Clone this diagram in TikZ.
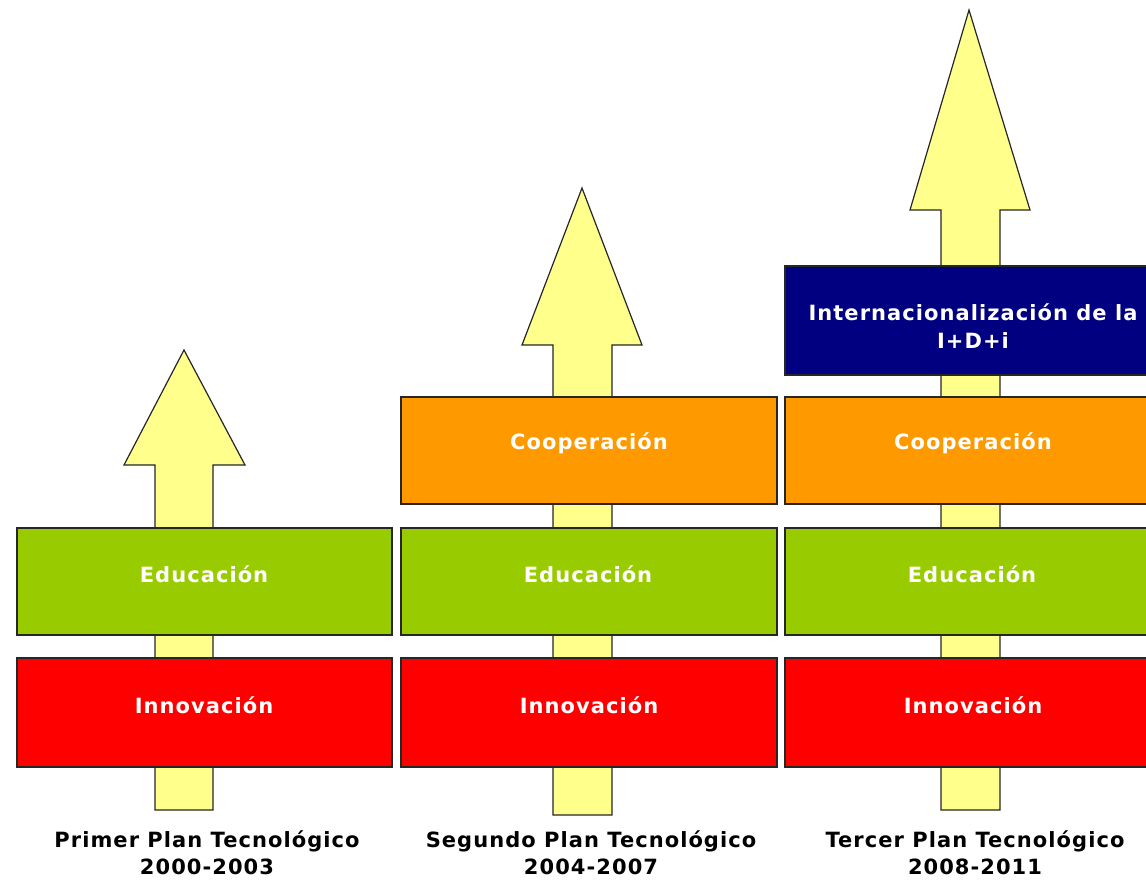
\documentclass[tikz,border=0pt]{standalone}
\usepackage{fontspec}
\setmainfont{DejaVu Sans}
\newfontfamily\spacedfont[LetterSpace=5]{DejaVu Sans}
\definecolor{arrowfill}{RGB}{255,255,140}
\definecolor{innov}{RGB}{255,0,0}
\definecolor{educ}{RGB}{153,204,0}
\definecolor{coop}{RGB}{255,153,0}
\definecolor{intl}{RGB}{0,0,128}
\tikzset{
  arrowshape/.style={draw=black!85, line width=1.2pt, fill=arrowfill, line join=miter},
  boxstyle/.style={draw=black!85, line width=1.5pt, minimum width=375pt, minimum height=107pt, inner sep=0pt},
  boxtext/.style={text=white, font=\spacedfont\fontsize{21}{28}\selectfont\bfseries, align=center, inner sep=0pt},
  plantext/.style={text=black, font=\spacedfont\fontsize{21}{27}\selectfont\bfseries, align=center, inner sep=0pt},
}
\begin{document}
\begin{tikzpicture}[x=1pt,y=-1pt]
\useasboundingbox (0,0) rectangle (1146,879);
\clip (0,0) rectangle (1146,879);
% arrows
\draw[arrowshape] (155,810) -- (155,465) -- (124,465) -- (184,350) -- (245,465) -- (213,465) -- (213,810) -- cycle;
\draw[arrowshape] (553,815) -- (553,345) -- (522,345) -- (582,188) -- (642,345) -- (612,345) -- (612,815) -- cycle;
\draw[arrowshape] (941,810) -- (941,210) -- (910,210) -- (969,10) -- (1030,210) -- (1000,210) -- (1000,810) -- cycle;
% column 1
\node[boxstyle, fill=innov, minimum height=109pt] (inn1) at (204.5,712.5) {};
\node[boxstyle, fill=educ] (edu1) at (204.5,581.5) {};
% column 2
\node[boxstyle, fill=innov, minimum height=109pt, minimum width=376pt] (inn2) at (589,712.5) {};
\node[boxstyle, fill=educ, minimum width=376pt] (edu2) at (589,581.5) {};
\node[boxstyle, fill=coop, minimum width=376pt] (coo2) at (589,450.5) {};
% column 3
\node[boxstyle, fill=innov, minimum height=109pt, minimum width=376pt] (inn3) at (973,712.5) {};
\node[boxstyle, fill=educ, minimum width=376pt] (edu3) at (973,581.5) {};
\node[boxstyle, fill=coop, minimum width=376pt] (coo3) at (973,450.5) {};
\node[boxstyle, fill=intl, minimum height=109pt, minimum width=376pt] (int3) at (973,320.5) {};
% box texts
\node[boxtext] (tinn1) at (204,705) {Innovación};
\node[boxtext] (tedu1) at (204,574) {Educación};
\node[boxtext] (tinn2) at (589,705) {Innovación};
\node[boxtext] (tedu2) at (588,574) {Educación};
\node[boxtext] (tcoo2) at (589,443) {Cooperación};
\node[boxtext] (tinn3) at (973,705) {Innovación};
\node[boxtext] (tedu3) at (972,574) {Educación};
\node[boxtext] (tcoo3) at (973,443) {Cooperación};
\node[boxtext] (tint3) at (973,326) {Internacionalización de la\\I+D+i};
% plan labels
\node[plantext] (p1) at (207,853) {Primer Plan Tecnológico\\2000-2003};
\node[plantext] (p2) at (591,853) {Segundo Plan Tecnológico\\2004-2007};
\node[plantext] (p3) at (975,853) {Tercer Plan Tecnológico\\2008-2011};
\end{tikzpicture}
\end{document}
